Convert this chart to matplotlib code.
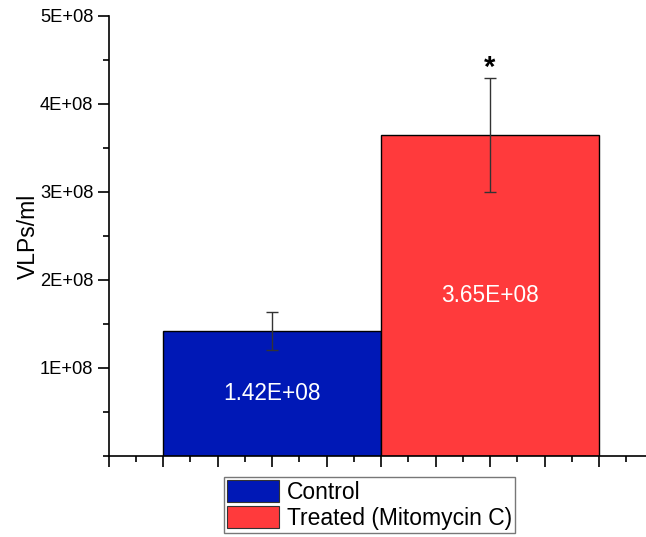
import matplotlib
matplotlib.use("Agg")
import matplotlib.pyplot as plt
from matplotlib.ticker import MultipleLocator, FixedLocator
from matplotlib.patches import Patch

plt.rcParams['font.family'] = ['Liberation Sans', 'DejaVu Sans']

categories = ["Control", "Treated (Mitomycin C)"]
values = [1.42e8, 3.65e8]
errors = [0.215e8, 0.645e8]
value_labels = ["1.42E+08", "3.65E+08"]
colors = ["#0018B6", "#FF3A3C"]
ytick_vals = [1e8, 2e8, 3e8, 4e8, 5e8]
ytick_labels = ["1E+08", "2E+08", "3E+08", "4E+08", "5E+08"]

W, H = 646, 537
fig = plt.figure(figsize=(W / 100, H / 100), dpi=100)
ax = fig.add_axes([108.5 / W, (H - 456) / H, 545 / W, 440 / H])

xs = [1, 2]
ax.bar(xs, values, width=1.0, color=colors, edgecolor="black", linewidth=1.0)
ax.errorbar(xs, values, yerr=errors, fmt="none", ecolor="#333333",
            elinewidth=1.0, capsize=4.5, capthick=1.0)

for x, v, lab in zip(xs, values, value_labels):
    ax.text(x, v / 2, lab, color="white", ha="center", va="center", fontsize=16.3)

ax.text(2, values[1] + errors[1] + 0.11e8, "*", ha="center", va="center",
        fontsize=21, fontweight="bold")

ax.set_xlim(0.25, 2.75)
ax.set_ylim(0, 5e8)
ax.yaxis.set_major_locator(FixedLocator(ytick_vals))
ax.set_yticklabels(ytick_labels)
ax.yaxis.set_minor_locator(MultipleLocator(0.5e8))
ax.xaxis.set_major_locator(MultipleLocator(0.25))
ax.xaxis.set_minor_locator(MultipleLocator(0.125))
ax.tick_params(axis="x", which="both", labelbottom=False)
ax.tick_params(axis="both", which="major", direction="out", length=8, width=1.2, labelsize=13.2)
ax.tick_params(axis="both", which="minor", direction="out", length=4, width=1.2)
ax.tick_params(axis="y", pad=3)

for s in ["top", "right"]:
    ax.spines[s].set_visible(False)
for s in ["left", "bottom"]:
    ax.spines[s].set_linewidth(1.2)

ax.set_ylabel("VLPs/ml", fontsize=16.5, labelpad=0)

handles = [Patch(facecolor=c, edgecolor="#333333", linewidth=0.8) for c in colors]
leg = fig.legend(handles, categories, loc="upper left",
                 bbox_to_anchor=(224 / W, 1 - 477 / H), fontsize=16.5,
                 handlelength=2.27, handleheight=1.13, labelspacing=0.1,
                 handletextpad=0.35, borderpad=0.12, borderaxespad=0,
                 fancybox=False, frameon=True)
leg.get_frame().set_edgecolor("#555555")
leg.get_frame().set_linewidth(1.0)

fig.savefig("out.png", dpi=100)
